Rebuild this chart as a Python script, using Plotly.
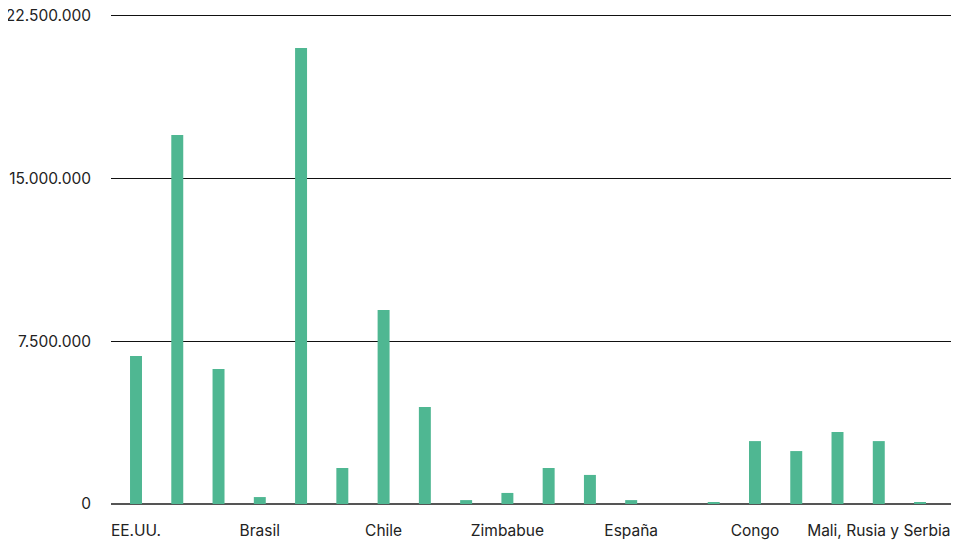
import plotly.graph_objects as go

# Categories (only every third one is labelled in the reference)
categories = [
    "EE.UU.", "País 2", "País 3", "Brasil", "País 5", "País 6", "Chile",
    "País 8", "País 9", "Zimbabue", "País 11", "País 12", "España",
    "País 14", "País 15", "Congo", "País 17", "País 18",
    "Mali, Rusia y Serbia", "País 20",
]
values = [
    6820000, 17010000, 6220000, 320000, 21020000, 1660000, 8940000,
    4470000, 180000, 510000, 1660000, 1340000, 180000, 0, 90000,
    2900000, 2440000, 3320000, 2900000, 90000,
]
labelled = ["EE.UU.", "Brasil", "Chile", "Zimbabue", "España", "Congo",
            "Mali, Rusia y Serbia"]
y_ticks = [0, 7500000, 15000000, 22500000]

x_pos = list(range(len(categories)))
tick_pos = [categories.index(c) for c in labelled]

fig = go.Figure(go.Bar(
    x=x_pos, y=values, marker_color="#4FB792", width=0.29,
    marker_line_width=0, hovertext=categories,
))

fig.update_layout(
    width=951, height=532,
    margin=dict(l=103, r=1, t=6, b=36),
    plot_bgcolor="white", paper_bgcolor="white",
    separators=",.",
    showlegend=False,
    font=dict(family="Inter", size=15.5, color="#222222"),
)
fig.update_xaxes(
    range=[-0.606, 19.92], automargin=False,
    tickmode="array", tickvals=tick_pos, ticktext=labelled,
    showgrid=False, zeroline=False, showline=False,
    ticks="", ticklabelstandoff=15,
    tickfont=dict(size=15.5, color="#222222"),
)
fig.update_yaxes(
    range=[0, 22590000], automargin=False,
    tickmode="array", tickvals=y_ticks, tickformat=",d",
    showgrid=True, gridcolor="#111111", gridwidth=1.2,
    zeroline=True, zerolinecolor="#555555", zerolinewidth=2,
    showline=False, ticks="", ticklabelstandoff=19,
    ticklabeloverflow="allow",
    tickfont=dict(size=15.5, color="#222222"),
)

fig.write_html("out.html")
